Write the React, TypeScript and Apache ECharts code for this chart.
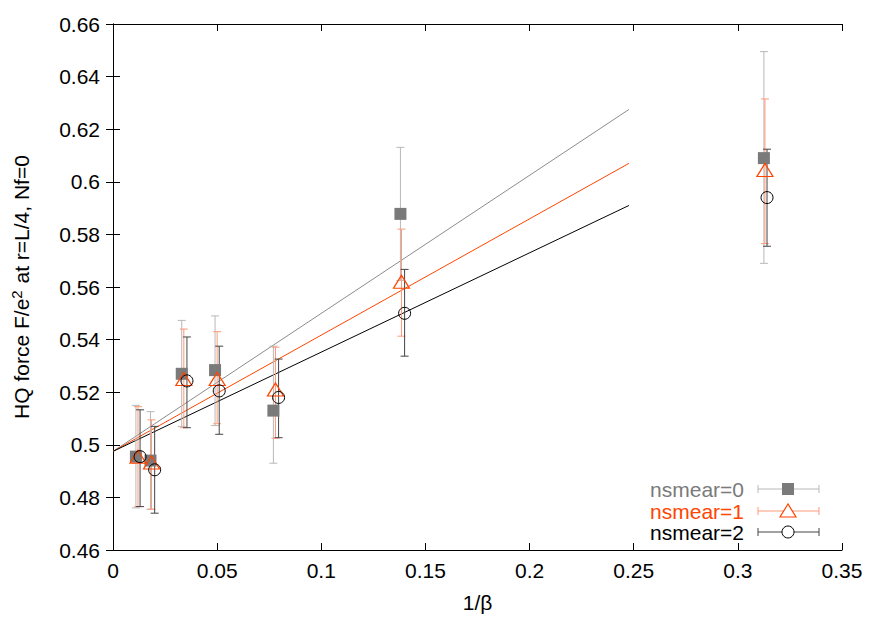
import React, { useEffect, useRef } from "react";
import * as echarts from "echarts";

// nsmear=0
const x0 = [0.011, 0.018, 0.033, 0.049, 0.077, 0.138, 0.3125];
const y0 = [0.4955, 0.494, 0.527, 0.5284, 0.513, 0.5878, 0.609];
const lo0 = [0.476, 0.4755, 0.507, 0.5073, 0.493, 0.5625, 0.569];
const hi0 = [0.515, 0.5126, 0.5473, 0.549, 0.5375, 0.6131, 0.6495];
// nsmear=1
const x1 = [0.012, 0.0185, 0.034, 0.050, 0.078, 0.1385, 0.313];
const y1 = [0.4955, 0.4933, 0.525, 0.525, 0.521, 0.562, 0.6045];
const lo1 = [0.4765, 0.4755, 0.5065, 0.508, 0.5025, 0.5413, 0.5765];
const hi1 = [0.5145, 0.5095, 0.544, 0.543, 0.5371, 0.582, 0.6315];
// nsmear=2
const x2 = [0.013, 0.020, 0.0355, 0.051, 0.0795, 0.140, 0.314];
const y2 = [0.4955, 0.4905, 0.5243, 0.5205, 0.518, 0.550, 0.594];
const lo2 = [0.4765, 0.474, 0.5065, 0.504, 0.5027, 0.5337, 0.5755];
const hi2 = [0.5133, 0.507, 0.541, 0.5375, 0.5326, 0.5667, 0.6124];

// linear fits (start, end)
const fitX = [0, 0.2477];
const fit0 = [0.4975, 0.6275];
const fit1 = [0.4975, 0.607];
const fit2 = [0.4975, 0.591];

const names = ["nsmear=0", "nsmear=1", "nsmear=2"];
const colors = ["#7a7a7a", "#ff4500", "#000000"];
const lineColors = ["#8c8c8c", "#ff4500", "#000000"];
const barColors = ["#b8b8b8", "#ff9a78", "#444444"];

const FONT = "Liberation Sans, Arial, Helvetica, sans-serif";
const FS = 21;

function errSeries(xs: number[], ys: number[], los: number[], his: number[], color: string, z: number) {
  return {
    type: "custom",
    z,
    silent: true,
    data: xs.map((x, i) => [x, ys[i], los[i], his[i]]),
    encode: { x: 0, y: [2, 3] },
    renderItem: (params: any, api: any) => {
      const x = api.value(0);
      const top = api.coord([x, api.value(3)]);
      const bot = api.coord([x, api.value(2)]);
      const w = 4;
      const st = { stroke: color, lineWidth: 1 };
      return {
        type: "group",
        children: [
          { type: "line", shape: { x1: top[0], y1: top[1], x2: bot[0], y2: bot[1] }, style: st },
          { type: "line", shape: { x1: top[0] - w, y1: top[1], x2: top[0] + w, y2: top[1] }, style: st },
          { type: "line", shape: { x1: bot[0] - w, y1: bot[1], x2: bot[0] + w, y2: bot[1] }, style: st },
        ],
      };
    },
  };
}

function fitSeries(ys: number[], color: string) {
  return {
    type: "line",
    data: fitX.map((x, i) => [x, ys[i]]),
    showSymbol: false,
    symbol: "none",
    lineStyle: { color, width: 1 },
    z: 1,
    silent: true,
  };
}

export default function App() {
  const ref = useRef<HTMLDivElement>(null);
  useEffect(() => {
    if (!ref.current) return;
    const chart = echarts.init(ref.current, undefined, { renderer: "svg" });
    const axisLine = { show: true, lineStyle: { color: "#000", width: 1 } };
    const tickIn = { show: true, inside: true, length: 7, lineStyle: { color: "#000" } };
    const legendRows = [489, 511, 532];
    const lx1 = 758, lx2 = 819, lmid = 788;
    const graphics: any[] = [];
    legendRows.forEach((y, i) => {
      graphics.push({
        type: "text",
        x: 744,
        y: y,
        style: { text: names[i], fill: colors[i], font: `${FS}px ${FONT}`, align: "right", verticalAlign: "middle" },
      });
      const st = { stroke: barColors[i], lineWidth: 1 };
      graphics.push({ type: "line", shape: { x1: lx1, y1: y, x2: lx2, y2: y }, style: st });
      graphics.push({ type: "line", shape: { x1: lx1, y1: y - 4, x2: lx1, y2: y + 4 }, style: st });
      graphics.push({ type: "line", shape: { x1: lx2, y1: y - 4, x2: lx2, y2: y + 4 }, style: st });
    });
    graphics.push({ type: "rect", shape: { x: lmid - 6, y: legendRows[0] - 6, width: 12, height: 12 }, style: { fill: colors[0] } });
    graphics.push({
      type: "polygon",
      shape: { points: [[lmid, legendRows[1] - 7], [lmid - 8, legendRows[1] + 6], [lmid + 8, legendRows[1] + 6]] },
      style: { fill: "#fff", stroke: colors[1], lineWidth: 1.2 },
    });
    graphics.push({ type: "circle", shape: { cx: lmid, cy: legendRows[2], r: 6 }, style: { fill: "#fff", stroke: colors[2], lineWidth: 1 } });

    chart.setOption({
      animation: false,
      backgroundColor: "#fff",
      textStyle: { fontFamily: FONT },
      grid: { left: 113, right: 41, top: 24, bottom: 65 },
      xAxis: [
        {
          type: "value", min: 0, max: 0.35, interval: 0.05,
          axisLine, axisTick: tickIn, splitLine: { show: false },
          axisLabel: { color: "#000", fontSize: FS, margin: 10, fontFamily: FONT, formatter: (v: number) => String(+v.toFixed(2)) },
          name: "1/β", nameLocation: "middle", nameGap: 42,
          nameTextStyle: { color: "#000", fontSize: FS, fontFamily: FONT },
        },
        {
          type: "value", position: "top", min: 0, max: 0.35, interval: 0.05,
          axisLine, axisTick: tickIn, splitLine: { show: false }, axisLabel: { show: false },
        },
      ],
      yAxis: [
        {
          type: "value", min: 0.46, max: 0.66, interval: 0.02,
          axisLine, axisTick: tickIn, splitLine: { show: false },
          axisLabel: { color: "#000", fontSize: FS, margin: 13, fontFamily: FONT, formatter: (v: number) => String(+v.toFixed(2)) },
          name: "HQ force F/e{sup|2} at r=L/4, Nf=0", nameLocation: "middle", nameGap: 80, nameRotate: 90,
          nameTextStyle: {
            color: "#000", fontSize: FS, fontFamily: FONT, lineHeight: 24,
            rich: { sup: { fontSize: 15, fontFamily: FONT, color: "#000", verticalAlign: "top", lineHeight: 24, padding: [0, 1, 8, 0] } },
          },
        },
        {
          type: "value", position: "right", min: 0.46, max: 0.66, interval: 0.02,
          axisLine, axisTick: tickIn, splitLine: { show: false }, axisLabel: { show: false },
        },
      ],
      series: [
        fitSeries(fit0, lineColors[0]),
        fitSeries(fit1, lineColors[1]),
        fitSeries(fit2, lineColors[2]),
        errSeries(x0, y0, lo0, hi0, barColors[0], 2),
        errSeries(x1, y1, lo1, hi1, barColors[1], 3),
        errSeries(x2, y2, lo2, hi2, barColors[2], 4),
        {
          type: "scatter", z: 5, data: x0.map((x, i) => [x, y0[i]]),
          symbol: "rect", symbolSize: 12, itemStyle: { color: colors[0], opacity: 1 }, silent: true,
        },
        {
          type: "scatter", z: 6, data: x1.map((x, i) => [x, y1[i]]),
          symbol: "triangle", symbolSize: [16, 13], itemStyle: { color: "rgba(255,255,255,0)", borderColor: colors[1], borderWidth: 1.2, opacity: 1 }, silent: true,
        },
        {
          type: "scatter", z: 7, data: x2.map((x, i) => [x, y2[i]]),
          symbol: "circle", symbolSize: 12, itemStyle: { color: "rgba(255,255,255,0)", borderColor: colors[2], borderWidth: 1, opacity: 1 }, silent: true,
        },
      ],
      graphic: graphics,
    });
    return () => chart.dispose();
  }, []);
  return <div ref={ref} style={{ width: 883, height: 618, position: "absolute", left: 0, top: 0 }} />;
}
